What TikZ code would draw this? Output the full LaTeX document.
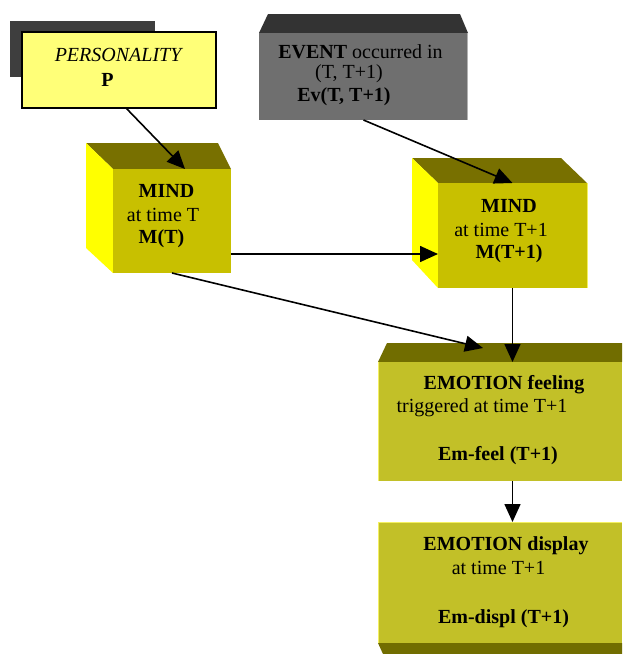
\documentclass[tikz,border=0pt]{standalone}
\usepackage{fontspec}
\setmainfont{Liberation Serif}
\usetikzlibrary{arrows.meta,calc}
\definecolor{mindfront}{HTML}{C8C000}
\definecolor{mindtop}{HTML}{787000}
\definecolor{mindside}{HTML}{FFFF00}
\definecolor{emofront}{HTML}{C2C028}
\definecolor{emotop}{HTML}{716D00}
\definecolor{evfront}{HTML}{6F6F6F}
\definecolor{evtop}{HTML}{333333}
\definecolor{persfill}{HTML}{FFFF78}
\definecolor{shadowgray}{HTML}{3E3E3E}
\definecolor{lightedge}{HTML}{F4F060}
\begin{document}
\begin{tikzpicture}[x=1pt,y=-1pt,
  face/.style={anchor=north west,inner sep=0pt,outer sep=0pt,draw=none},
  txt/.style={anchor=base,inner sep=0pt,font=\fontsize{20}{24}\selectfont},
  arr/.style={line width=1.6pt,-{Triangle[length=18pt,width=16pt]}}]
\useasboundingbox (0,0) rectangle (622,654);
% personality
\fill[shadowgray] (10,21) rectangle (155,77);
\node[face,draw=black,line width=1.5pt,fill=persfill,minimum width=194pt,minimum height=76pt] (pers) at (22,32) {};
\node[txt] (perst1) at (119,61) {\textit{PERSONALITY}};
\node[txt] (perst2) at (107.5,86) {\textbf{P}};
% event
\fill[evtop] (268,14) -- (460,14) -- (468,33) -- (259,33) -- cycle;
\node[face,fill=evfront,minimum width=209pt,minimum height=87pt] (ev) at (259,33) {};
\draw[line width=1pt,gray!60] (467.5,33) -- (467.5,120);
\node[txt] (evt1) at (360.5,58) {\textbf{EVENT} occurred in};
\node[txt] (evt2) at (349,78) {(T, T+1)};
\node[txt] (evt3) at (344,101) {\textbf{Ev(T, T+1)}};
% mind T
\fill[mindtop] (86,143) -- (218,143) -- (231,169) -- (113,169) -- cycle;
\fill[mindside] (86,143) -- (113,169) -- (113,273) -- (86,248) -- cycle;
\node[face,fill=mindfront,minimum width=118pt,minimum height=104pt] (m1) at (113,169) {};
\node[txt] (m1t1) at (166.5,197) {\textbf{MIND}};
\node[txt] (m1t2) at (163,221) {at time T};
\node[txt] (m1t3) at (161.5,243) {\textbf{M(T)}};
% mind T+1
\fill[mindtop] (412,158) -- (561,158) -- (587,183) -- (438,183) -- cycle;
\fill[mindside] (412,158) -- (438,183) -- (438,288) -- (412,260) -- cycle;
\node[face,fill=mindfront,minimum width=149pt,minimum height=105pt] (m2) at (438,183) {};
\draw[line width=1pt,lightedge] (587,183) -- (587,288);
\node[txt] (m2t1) at (509,212) {\textbf{MIND}};
\node[txt] (m2t2) at (501,236) {at time T+1};
\node[txt] (m2t3) at (509,258) {\textbf{M(T+1)}};
% emotion feeling
\fill[emotop] (387,343) -- (622,343) -- (622,362) -- (378,362) -- cycle;
\node[face,fill=emofront,minimum width=244pt,minimum height=119pt] (ef) at (378,362) {};
\draw[line width=1pt,lightedge] (378.5,362) -- (378.5,481);
\node[txt] (eft1) at (504,389) {\textbf{EMOTION feeling}};
\node[txt] (eft2) at (482,412) {triggered at time T+1};
\node[txt] (eft3) at (498,460) {\textbf{Em-feel (T+1)}};
% emotion display
\node[face,fill=emofront,minimum width=244pt,minimum height=121pt] (ed) at (378,522) {};
\fill[emotop] (378,643) -- (622,643) -- (622,654) -- (383,654) -- cycle;
\draw[line width=1pt,lightedge] (378.5,522) -- (378.5,643);
\draw[line width=1pt,lightedge] (378,522.5) -- (622,522.5);
\node[txt] (edt1) at (506,550) {\textbf{EMOTION display}};
\node[txt] (edt2) at (498.5,574) {at time T+1};
\node[txt] (edt3) at (503.5,623) {\textbf{Em-displ (T+1)}};
% connectors
\draw[arr] ([xshift=7pt]pers.south) -- ([xshift=13pt]m1.north);
\draw[arr] (ev.south) -- (m2.north);
\coordinate (h1) at ([yshift=-33pt]m1.east);
\draw[arr] (h1) -- (h1 -| m2.west);
\draw[arr] (m1.south) -- ([xshift=-17pt,yshift=14pt]ef.north);
\draw[arr] (m2.south) -- (m2.south |- ef.north);
\draw[arr] (m2.south |- ef.south) -- (m2.south |- ed.north);
\end{tikzpicture}
\end{document}
